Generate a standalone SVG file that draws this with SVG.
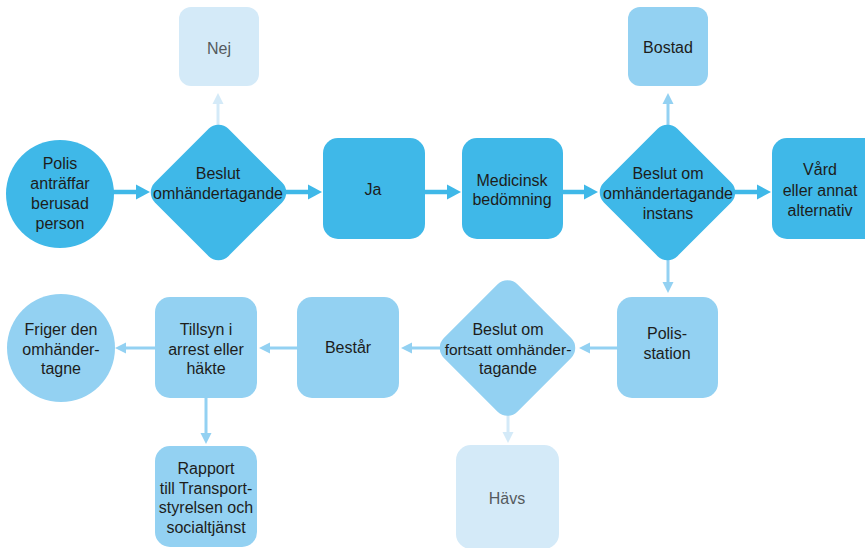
<svg xmlns="http://www.w3.org/2000/svg" width="865" height="548" viewBox="0 0 865 548">
<defs>
<style>
.dark{fill:#3fb8e8}
.mid{fill:#93d1f2}
.light{fill:#d4eaf8}
text{font-family:"Liberation Sans",Arial,sans-serif;font-size:16px;fill:#1d1d1b;text-anchor:middle}
text.g{fill:#555a5e}
.cd{stroke:#3fb8e8;stroke-width:4.5;fill:none}
.cm{stroke:#93d1f2;stroke-width:3;fill:none}
.cl{stroke:#d4eaf8;stroke-width:3;fill:none}
</style>
<marker id="ad" markerUnits="userSpaceOnUse" markerWidth="14" markerHeight="16" refX="2" refY="8" orient="auto"><path d="M0,0.5 L14,8 L0,15.5 z" fill="#3fb8e8"/></marker>
<marker id="am" markerUnits="userSpaceOnUse" markerWidth="11" markerHeight="12" refX="2" refY="6" orient="auto"><path d="M0,0.5 L11,6 L0,11.5 z" fill="#93d1f2"/></marker>
<marker id="al" markerUnits="userSpaceOnUse" markerWidth="11" markerHeight="12" refX="2" refY="6" orient="auto"><path d="M0,0.5 L11,6 L0,11.5 z" fill="#d4eaf8"/></marker>
</defs>
<rect width="865" height="548" fill="#ffffff"/>
<g id="connectors">
<line class="cd" x1="112" y1="192" x2="138" y2="192" marker-end="url(#ad)"/>
<line class="cd" x1="285" y1="192" x2="310" y2="192" marker-end="url(#ad)"/>
<line class="cd" x1="425" y1="192" x2="449" y2="192" marker-end="url(#ad)"/>
<line class="cd" x1="563" y1="192" x2="586" y2="192" marker-end="url(#ad)"/>
<line class="cd" x1="735" y1="192" x2="759" y2="192" marker-end="url(#ad)"/>
<line class="cl" x1="218" y1="128" x2="218" y2="102" marker-end="url(#al)"/>
<line class="cm" x1="668" y1="128" x2="668" y2="102" marker-end="url(#am)"/>
<line class="cm" x1="668" y1="258" x2="668" y2="284" marker-end="url(#am)"/>
<line class="cm" x1="617" y1="348" x2="588" y2="348" marker-end="url(#am)"/>
<line class="cm" x1="441" y1="348" x2="410" y2="348" marker-end="url(#am)"/>
<line class="cl" x1="508" y1="414" x2="508" y2="434" marker-end="url(#al)"/>
<line class="cm" x1="297" y1="348" x2="268" y2="348" marker-end="url(#am)"/>
<line class="cm" x1="155" y1="348" x2="124" y2="348" marker-end="url(#am)"/>
<line class="cm" x1="206" y1="398" x2="206" y2="435" marker-end="url(#am)"/>
</g>
<g id="n-polis">
<circle class="dark" cx="60" cy="194" r="54"/>
<text x="60" y="169">Polis</text>
<text x="60" y="189">anträffar</text>
<text x="60" y="209">berusad</text>
<text x="60" y="229">person</text>
</g>
<g id="n-beslut1">
<rect class="dark" x="-52" y="-52" width="104" height="104" rx="14" transform="translate(218.5 192.5) rotate(45)"/>
<text x="218" y="179">Beslut</text>
<text x="218" y="199">omhändertagande</text>
</g>
<g id="n-nej">
<rect class="light" x="179" y="7" width="80" height="79" rx="12"/>
<text class="g" x="219" y="54">Nej</text>
</g>
<g id="n-ja">
<rect class="dark" x="323" y="138" width="102" height="101" rx="15"/>
<text x="373" y="195">Ja</text>
</g>
<g id="n-medicinsk">
<rect class="dark" x="462" y="138" width="101" height="101" rx="15"/>
<text x="512" y="186">Medicinsk</text>
<text x="512" y="205">bedömning</text>
</g>
<g id="n-beslut2">
<rect class="dark" x="-52" y="-52" width="104" height="104" rx="14" transform="translate(667.5 192.5) rotate(45)"/>
<text x="668" y="179">Beslut om</text>
<text x="668" y="199">omhändertagande</text>
<text x="668" y="219">instans</text>
</g>
<g id="n-bostad">
<rect class="mid" x="628" y="7" width="80" height="79" rx="12"/>
<text x="668" y="53">Bostad</text>
</g>
<g id="n-vard">
<rect class="dark" x="772" y="138" width="110" height="101" rx="15"/>
<text x="820" y="175">Vård</text>
<text x="820" y="196">eller annat</text>
<text x="820" y="216">alternativ</text>
</g>
<g id="n-polisstation">
<rect class="mid" x="617" y="297" width="101" height="101" rx="15"/>
<text x="667" y="339">Polis-</text>
<text x="667" y="359">station</text>
</g>
<g id="n-beslut3">
<rect class="mid" x="-52" y="-52" width="104" height="104" rx="14" transform="translate(507.5 348) rotate(45)"/>
<text x="508" y="335">Beslut om</text>
<text x="508" y="355" style="font-size:15.5px">fortsatt omhänder-</text>
<text x="508" y="374">tagande</text>
</g>
<g id="n-havs">
<rect class="light" x="456" y="445" width="103" height="104" rx="15"/>
<text class="g" x="507" y="504">Hävs</text>
</g>
<g id="n-bestar">
<rect class="mid" x="297" y="297" width="102" height="101" rx="15"/>
<text x="348" y="353">Består</text>
</g>
<g id="n-tillsyn">
<rect class="mid" x="155" y="297" width="102" height="101" rx="15"/>
<text x="206" y="335">Tillsyn i</text>
<text x="206" y="355">arrest eller</text>
<text x="206" y="374">häkte</text>
</g>
<g id="n-friger">
<circle class="mid" cx="61" cy="348" r="54"/>
<text x="61" y="335">Friger den</text>
<text x="61" y="355">omhänder-</text>
<text x="61" y="374">tagne</text>
</g>
<g id="n-rapport">
<rect class="mid" x="155" y="446" width="102" height="101" rx="15"/>
<text x="206" y="474">Rapport</text>
<text x="206" y="494">till Transport-</text>
<text x="206" y="513">styrelsen och</text>
<text x="206" y="533">socialtjänst</text>
</g>
</svg>
